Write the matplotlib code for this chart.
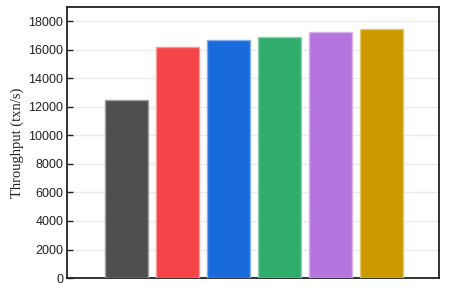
import matplotlib
matplotlib.use("Agg")
import matplotlib.pyplot as plt
import matplotlib.colors as mcolors
import numpy as np

values = [12460, 16190, 16730, 16890, 17265, 17475]
colors = ["#4f4f4f", "#f54447", "#196bdc", "#31ad6b", "#b575de", "#cc9900"]
yticks = [0, 2000, 4000, 6000, 8000, 10000, 12000, 14000, 16000, 18000]
ylabel = "Throughput (txn/s)"

def lighten(c, f=0.45):
    r, g, b = mcolors.to_rgb(c)
    return (r + (1 - r) * f, g + (1 - g) * f, b + (1 - b) * f)

fig = plt.figure(figsize=(4.59, 2.95), dpi=100)
ax = fig.add_axes([0.147, 0.0576, 0.809, 0.918])

x = np.arange(len(values))
ax.bar(x, values, width=0.84, color=colors,
       edgecolor=[lighten(c) for c in colors], linewidth=1.0, zorder=3)

ax.set_xlim(-1.15, 6.13)
ax.set_ylim(0, 19000)
ax.set_yticks(yticks)
ax.set_yticklabels([str(v) for v in yticks], fontfamily="Liberation Sans", fontsize=9)
ax.set_xticks([])
ax.tick_params(axis="y", direction="in", length=4, width=1, pad=3, colors="#222222", labelcolor="#222222")
ax.yaxis.grid(True, color="#ebebeb", linewidth=1.0, zorder=0)
ax.set_axisbelow(True)

for s in ax.spines.values():
    s.set_linewidth(1.3)
    s.set_color("#222222")

ax.set_ylabel(ylabel, fontfamily="Liberation Serif", fontsize=10.5, labelpad=3, color="#222222")

fig.savefig("out.png", dpi=100)
